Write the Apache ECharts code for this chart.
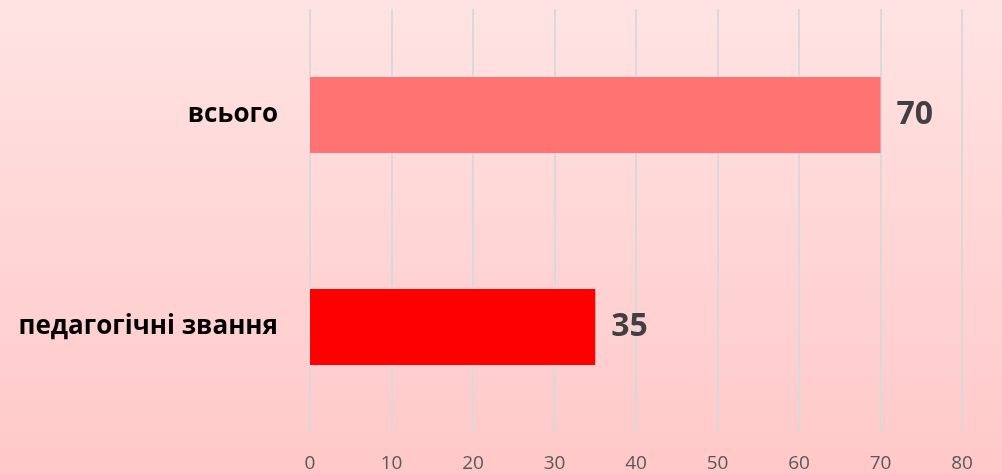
<!DOCTYPE html>
<html lang="uk">
<head>
    <meta charset="UTF-8">
    <title>Chart</title>
    <script src="https://cdn.jsdelivr.net/npm/echarts@6/dist/echarts.min.js"></script>
    <style>
      html, body { margin: 0; padding: 0; }
      #chart { width: 1002px; height: 474px; }
    </style>
</head>
<body>
  <div id="chart"></div>
  <script type="text/javascript">
    var categories = ['всього', 'педагогічні звання'];
    var values = [70, 35];
    var barColors = ['#FF7373', '#FF0000'];
    var tickMax = 80;
    var tickStep = 10;

    var dom = document.getElementById('chart');
    var myChart = echarts.init(dom, null, { renderer: 'canvas' });

    var option = {
      backgroundColor: {
        type: 'linear', x: 0, y: 0, x2: 0, y2: 1,
        colorStops: [
          { offset: 0, color: '#FFE3E3' },
          { offset: 1, color: '#FFC8C8' }
        ]
      },
      animation: false,
      grid: { left: 310, right: 40, top: 9, bottom: 41, containLabel: false },
      xAxis: {
        type: 'value',
        min: 0,
        max: tickMax,
        interval: tickStep,
        axisLine: { show: false },
        axisTick: { show: false },
        splitLine: { show: true, lineStyle: { color: '#D9D9D9', width: 2 } },
        axisLabel: {
          color: '#595959',
          fontFamily: 'Open Sans',
          fontSize: 19,
          margin: 21
        }
      },
      yAxis: {
        type: 'category',
        data: categories,
        inverse: true,
        axisLine: { show: false },
        axisTick: { show: false },
        axisLabel: {
          color: '#000000',
          fontFamily: 'Open Sans',
          fontWeight: 'bold',
          fontSize: 26,
          margin: 32,
          padding: [6, 0, 0, 0]
        }
      },
      series: [
        {
          type: 'bar',
          barWidth: 76,
          data: values.map(function (v, i) {
            return { value: v, itemStyle: { color: barColors[i] } };
          }),
          label: {
            show: true,
            position: 'right',
            distance: 16,
            color: '#404040',
            fontFamily: 'Open Sans',
            fontWeight: 'bold',
            fontSize: 32,
            padding: [6, 0, 0, 0]
          }
        }
      ]
    };

    myChart.setOption(option);
    window.addEventListener('resize', myChart.resize);
  </script>
</body>
</html>
